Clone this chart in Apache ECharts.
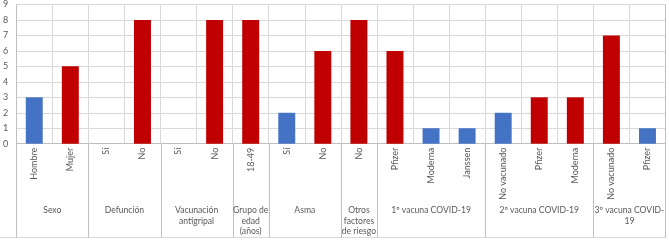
<!DOCTYPE html>
<html>
<head>
<meta charset="utf-8">
<script src="https://cdn.jsdelivr.net/npm/echarts@6/dist/echarts.min.js"></script>
<style>
  html, body { margin: 0; padding: 0; background: #fff; }
  #chart { width: 669px; height: 240px; }
</style>
</head>
<body>
<div id="chart"></div>
<script>
// Catégories (une barre par catégorie)
const categories = ['Hombre', 'Mujer', 'Sí', 'No', 'Sí', 'No', '18-49', 'Sí', 'No', 'No',
    'Pfizer', 'Moderna', 'Janssen', 'No vacunado', 'Pfizer', 'Moderna', 'No vacunado', 'Pfizer'];

// Valeurs des barres bleues et rouges (null = pas de barre)
const blueValues = [3, null, null, null, null, null, null, 2, null, null,
    null, 1, 1, 2, null, null, null, 1];
const redValues = [null, 5, 0, 8, 0, 8, 8, null, 6, 8,
    6, null, null, null, 3, 3, 7, null];

// Groupes : nom, index de début, index de fin
const groupNames = ['Sexo', 'Defunción', 'Vacunación\nantigripal', 'Grupo de\nedad\n(años)', 'Asma',
    'Otros\nfactores\nde riesgo', '1º vacuna COVID-19', '2º vacuna COVID-19', '3º vacuna COVID-\n19'];
const groupStart = [0, 2, 4, 6, 7, 9, 10, 13, 16];
const groupEnd = [1, 3, 5, 6, 8, 9, 12, 15, 17];

const yTicks = [0, 1, 2, 3, 4, 5, 6, 7, 8, 9];

const FONT = 'Lato';
const TEXT = '#595959';
const GRID = '#d9d9d9';
const AXIS = '#bfbfbf';

// Dessine les séparateurs et le nom de chaque groupe sous l'axe
function renderGroup(params, api) {
    const i = params.dataIndex;
    const start = api.value(0);
    const end = api.value(1);
    const band = api.size([1, 0])[0];
    const x0 = api.coord([start, 0])[0] - band / 2;
    const x1 = api.coord([end, 0])[0] + band / 2;
    const yAxis = api.coord([start, 0])[1];
    const bottom = api.getHeight() - 2.5;
    const lineStyle = { stroke: AXIS, lineWidth: 1 };
    const children = [
        {
            type: 'line',
            shape: { x1: Math.round(x0) + 0.5, y1: yAxis, x2: Math.round(x0) + 0.5, y2: bottom },
            style: lineStyle
        },
        {
            type: 'text',
            x: (x0 + x1) / 2,
            y: yAxis + 61.5,
            style: {
                text: groupNames[i],
                fill: TEXT,
                font: '8.6px ' + FONT,
                align: 'center',
                verticalAlign: 'top',
                lineHeight: 10.5
            }
        }
    ];
    if (i === groupNames.length - 1) {
        children.push({
            type: 'line',
            shape: { x1: Math.round(x1) - 0.5, y1: params.coordSys.y, x2: Math.round(x1) - 0.5, y2: bottom },
            style: lineStyle
        });
    }
    return { type: 'group', children: children };
}

const chart = echarts.init(document.getElementById('chart'));
chart.setOption({
    animation: false,
    grid: { left: 14, right: 3.5, top: 4.5, bottom: 96.3 },
    graphic: [{
        type: 'line',
        shape: { x1: 0, y1: 237.5, x2: 666, y2: 237.5 },
        style: { stroke: GRID, lineWidth: 1 }
    }],
    xAxis: {
        type: 'category',
        data: categories,
        axisLine: { show: true, lineStyle: { color: AXIS } },
        axisTick: { show: false },
        splitLine: { show: true, interval: 0, lineStyle: { color: GRID } },
        axisLabel: {
            interval: 0,
            rotate: 90,
            margin: 4,
            color: TEXT,
            fontFamily: FONT,
            fontSize: 9
        }
    },
    yAxis: {
        type: 'value',
        min: yTicks[0],
        max: yTicks[yTicks.length - 1],
        interval: 1,
        axisLine: { show: true, lineStyle: { color: AXIS } },
        splitLine: { lineStyle: { color: GRID } },
        axisLabel: { color: TEXT, fontFamily: FONT, fontSize: 9, margin: 8 }
    },
    series: [
        {
            type: 'bar',
            data: blueValues,
            barWidth: '47%',
            barGap: '-100%',
            itemStyle: { color: '#4472C4' }
        },
        {
            type: 'bar',
            data: redValues,
            barWidth: '47%',
            itemStyle: { color: '#C00000' }
        },
        {
            type: 'custom',
            renderItem: renderGroup,
            clip: false,
            silent: true,
            data: groupStart.map((s, k) => [s, groupEnd[k]])
        }
    ]
});
</script>
</body>
</html>
